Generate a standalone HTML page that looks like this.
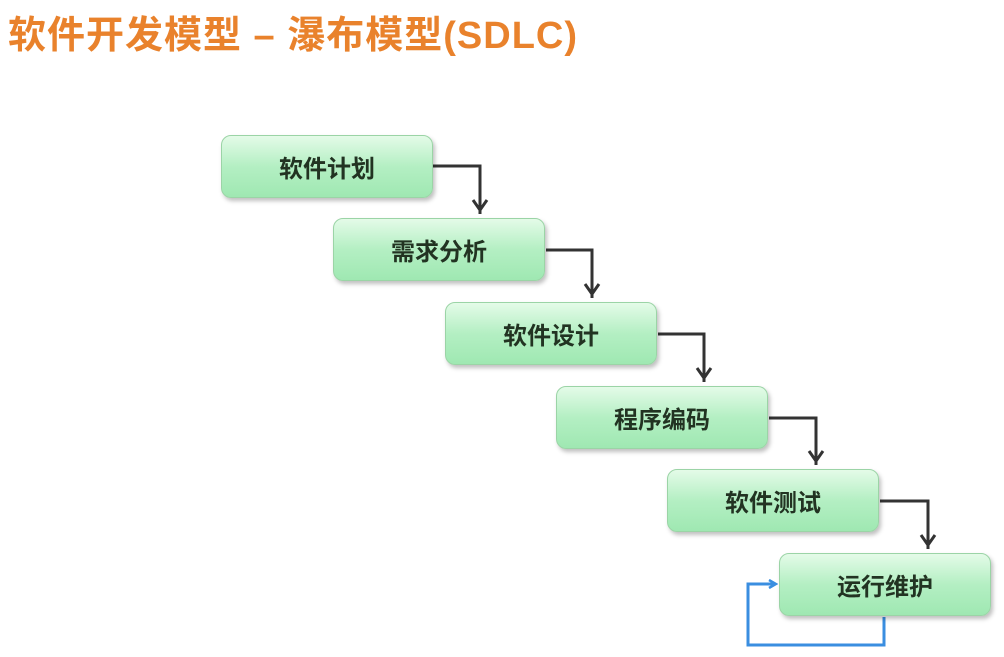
<!DOCTYPE html>
<html><head><meta charset="utf-8"><style>
body{margin:0;width:1004px;height:657px;background:#fff;overflow:hidden;position:relative;font-family:"Liberation Sans","Noto Sans CJK SC",sans-serif}
.t{position:absolute;left:8px;top:4px;font-size:38px;font-weight:bold;color:#e9822c;white-space:nowrap;letter-spacing:1px}
.b{position:absolute;width:212px;height:63px;border:1px solid #9bd4a6;border-radius:10px;background:linear-gradient(#e4fbe8,#b4efc3 50%,#9fe8b2);box-shadow:2px 3px 4px rgba(0,0,0,0.25);display:flex;align-items:center;justify-content:center;font-size:24px;font-weight:bold;color:#223322;box-sizing:border-box}
svg{position:absolute;left:0;top:0}
</style></head><body>
<div class="t">软件开发模型 – 瀑布模型(SDLC)</div>
<svg width="1004" height="657">
<defs><marker id="c" markerWidth="10" markerHeight="10" refX="8" refY="5" orient="auto" markerUnits="userSpaceOnUse"><path d="M1,1 L8,5 L1,9" fill="none" stroke="#3a8ee0" stroke-width="2.5"/></marker></defs>
<g fill="none" stroke="#333" stroke-width="3">
<path d="M433,166 H480 V214"/><path d="M480,210 l-7,-10 M480,210 l7,-10"/>
<path d="M546,250 H592 V298"/><path d="M592,294 l-7,-10 M592,294 l7,-10"/>
<path d="M658,334 H704 V382"/><path d="M704,378 l-7,-10 M704,378 l7,-10"/>
<path d="M769,418 H816 V465"/><path d="M816,461 l-7,-10 M816,461 l7,-10"/>
<path d="M880,501 H928 V549"/><path d="M928,545 l-7,-10 M928,545 l7,-10"/>
</g>
<path d="M884,617 V645 H748 V584 H776" fill="none" stroke="#3a8ee0" stroke-width="3" marker-end="url(#c)"/>
</svg>
<div class="b" style="left:221px;top:135px">软件计划</div>
<div class="b" style="left:333px;top:218px">需求分析</div>
<div class="b" style="left:445px;top:302px">软件设计</div>
<div class="b" style="left:556px;top:386px">程序编码</div>
<div class="b" style="left:667px;top:469px">软件测试</div>
<div class="b" style="left:779px;top:553px">运行维护</div>
</body></html>
